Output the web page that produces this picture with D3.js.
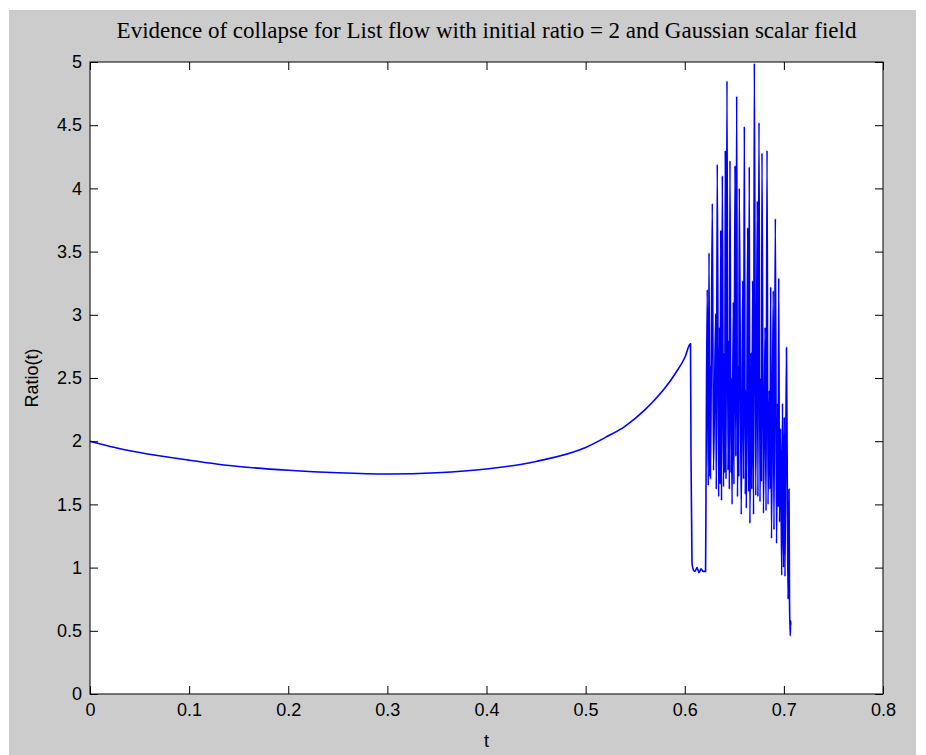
<!DOCTYPE html>
<html>
<head>
<meta charset="utf-8">
<script src="https://cdn.jsdelivr.net/npm/d3@7"></script>
<style>
  body { margin: 0; background: #fff; }
  .tick text { font-family: "Liberation Sans", Arial, sans-serif; font-size: 18px; fill: #000; }
  .domain { display: none; }
</style>
</head>
<body>
<script>
// ratio(t) samples
var tSmooth = [0, 0.025, 0.05, 0.1, 0.15, 0.2, 0.25, 0.3, 0.35, 0.4, 0.45, 0.5, 0.52, 0.54, 0.56, 0.57, 0.58, 0.59, 0.6, 0.6058];
var rSmooth = [2.0, 1.95, 1.91, 1.85, 1.80, 1.77, 1.75, 1.74, 1.75, 1.78, 1.84, 1.95, 2.03, 2.12, 2.25, 2.33, 2.42, 2.53, 2.66, 2.77];

// sudden drop and flat part
var tDrop = [0.6063, 0.6073, 0.6088, 0.6103, 0.6124, 0.6144, 0.6164, 0.6184, 0.6210];
var rDrop = [1.9, 1.04, 0.98, 0.97, 1.0, 0.96, 0.99, 0.97, 0.97];

// oscillating part
var tOsc = [0.6214, 0.6227, 0.6237, 0.6245, 0.6252, 0.6256, 0.6260, 0.6278, 0.6290, 0.6312,
  0.6318, 0.6328, 0.6342, 0.6352, 0.6357, 0.6363, 0.6371, 0.6379, 0.6391, 0.6400,
  0.6404, 0.6409, 0.6416, 0.6426, 0.6436, 0.6446, 0.6450, 0.6456, 0.6467, 0.6472,
  0.6477, 0.6490, 0.6496, 0.6507, 0.6515, 0.6524, 0.6532, 0.6541, 0.6545, 0.6550,
  0.6570, 0.6585, 0.6593, 0.6601, 0.6611, 0.6616, 0.6621, 0.6635, 0.6643, 0.6651,
  0.6657, 0.6670, 0.6676, 0.6685, 0.6694, 0.6702, 0.6716, 0.6732, 0.6738, 0.6749,
  0.6759, 0.6769, 0.6774, 0.6779, 0.6794, 0.6810, 0.6820, 0.6830, 0.6840, 0.6853,
  0.6860, 0.6867, 0.6875, 0.6893, 0.6900, 0.6914, 0.6926, 0.6937, 0.6942, 0.6948,
  0.6956, 0.6966, 0.6978, 0.6986, 0.6996, 0.7004, 0.7011, 0.7026, 0.7035, 0.7042,
  0.7052, 0.7057, 0.7064, 0.7068, 0.7070];
var rOsc = [1.56, 3.2, 1.65, 3.49, 1.72, 2.6, 1.70, 3.88, 1.77, 3.01,
  1.62, 4.19, 1.56, 2.9, 1.66, 3.67, 1.53, 4.1, 1.64, 2.7,
  1.75, 4.3, 1.70, 4.85, 1.77, 2.8, 1.62, 4.22, 1.75, 2.5,
  1.50, 3.1, 1.66, 4.18, 1.88, 4.73, 1.56, 2.6, 1.72, 4.0,
  1.42, 3.27, 1.70, 4.49, 1.58, 2.4, 1.47, 3.69, 1.60, 4.17,
  1.35, 2.7, 1.62, 3.27, 1.42, 4.99, 1.57, 3.9, 1.56, 4.52,
  1.52, 2.5, 1.68, 4.28, 1.43, 2.9, 1.45, 4.3, 1.50, 2.4,
  1.62, 3.22, 1.23, 3.19, 1.30, 3.76, 1.19, 2.3, 1.48, 3.29,
  1.36, 2.1, 0.94, 2.3, 1.0, 2.19, 0.93, 2.74, 1.6, 0.75,
  1.62, 0.73, 0.46, 0.58, 0.55];

var xTicks = [0, 0.1, 0.2, 0.3, 0.4, 0.5, 0.6, 0.7, 0.8];
var yTicks = [0, 0.5, 1, 1.5, 2, 2.5, 3, 3.5, 4, 4.5, 5];

var titleText = "Evidence of collapse for List flow with initial ratio = 2 and Gaussian scalar field";

var width = 926, height = 755;
var margin = { top: 62, right: 43, bottom: 61, left: 90 };

var svg = d3.select("body").append("svg")
  .attr("width", width)
  .attr("height", height);

// figure background
svg.append("rect").attr("width", width).attr("height", height).attr("fill", "#fff");
svg.append("rect")
  .attr("x", 9).attr("y", 10)
  .attr("width", 907).attr("height", height - 10)
  .attr("fill", "#cccccc");

var x = d3.scaleLinear().domain([0, 0.8]).range([margin.left, width - margin.right]);
var y = d3.scaleLinear().domain([0, 5]).range([height - margin.bottom, margin.top]);

// axes area
svg.append("rect")
  .attr("x", x(0)).attr("y", y(5))
  .attr("width", x(0.8) - x(0)).attr("height", y(0) - y(5))
  .attr("fill", "#fff");

var data = [];
function addPts(ts, rs) {
  for (var i = 0; i < ts.length; i++) data.push({ t: ts[i], r: rs[i] });
}
addPts(tSmooth, rSmooth);
addPts(tDrop, rDrop);
addPts(tOsc, rOsc);

var line = d3.line()
  .x(function (d) { return x(d.t); })
  .y(function (d) { return y(d.r); })
  .curve(d3.curveMonotoneX);

svg.append("path")
  .datum(data)
  .attr("d", line)
  .attr("fill", "none")
  .attr("stroke", "#0000ff")
  .attr("stroke-width", 1.6)
  .attr("stroke-linejoin", "miter");

// ticks on all four sides, pointing inward
var fmt = function (d) { return String(d); };

svg.append("g")
  .attr("transform", "translate(0," + y(0) + ")")
  .call(d3.axisBottom(x).tickValues(xTicks).tickFormat(fmt).tickSizeInner(-8).tickSizeOuter(0).tickPadding(9));

svg.append("g")
  .attr("transform", "translate(0," + y(5) + ")")
  .call(d3.axisTop(x).tickValues(xTicks).tickFormat("").tickSizeInner(-8).tickSizeOuter(0));

svg.append("g")
  .attr("transform", "translate(" + x(0) + ",0)")
  .call(d3.axisLeft(y).tickValues(yTicks).tickFormat(fmt).tickSizeInner(-8).tickSizeOuter(0).tickPadding(8));

svg.append("g")
  .attr("transform", "translate(" + x(0.8) + ",0)")
  .call(d3.axisRight(y).tickValues(yTicks).tickFormat("").tickSizeInner(-8).tickSizeOuter(0));

svg.selectAll(".tick line").attr("stroke", "#000");

// box
svg.append("rect")
  .attr("x", x(0)).attr("y", y(5))
  .attr("width", x(0.8) - x(0)).attr("height", y(0) - y(5))
  .attr("fill", "none")
  .attr("stroke", "#000")
  .attr("stroke-width", 1);

// labels
svg.append("text")
  .attr("x", (x(0) + x(0.8)) / 2)
  .attr("y", 38)
  .attr("text-anchor", "middle")
  .style("font-family", "'Liberation Serif', 'Times New Roman', serif")
  .style("font-size", "23px")
  .text(titleText);

svg.append("text")
  .attr("x", (x(0) + x(0.8)) / 2)
  .attr("y", 747)
  .attr("text-anchor", "middle")
  .style("font-family", "'Liberation Sans', Arial, sans-serif")
  .style("font-size", "18px")
  .text("t");

svg.append("text")
  .attr("transform", "translate(38," + (y(2.5)) + ") rotate(-90)")
  .attr("text-anchor", "middle")
  .style("font-family", "'Liberation Sans', Arial, sans-serif")
  .style("font-size", "18px")
  .text("Ratio(t)");
</script>
</body>
</html>
